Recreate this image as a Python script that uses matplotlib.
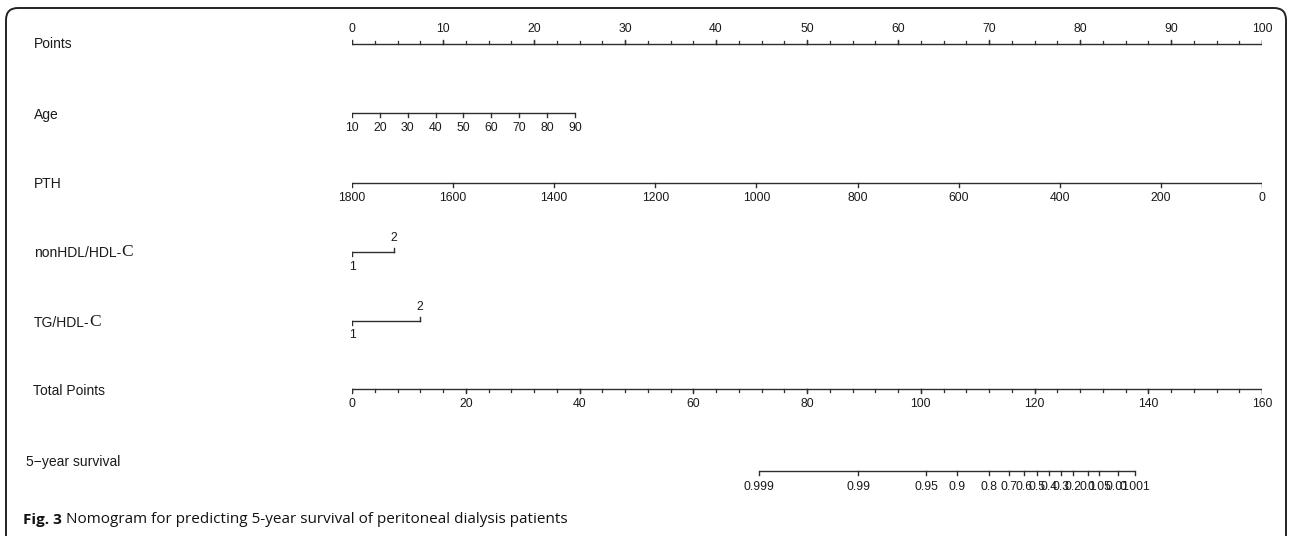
import matplotlib
matplotlib.use("Agg")
import matplotlib.pyplot as plt
import matplotlib.transforms as mtransforms
from matplotlib.patches import FancyBboxPatch
from matplotlib import font_manager
import numpy as np

# ---------------- data ----------------
points_major = [0, 10, 20, 30, 40, 50, 60, 70, 80, 90, 100]
points_minor_step = 2.5

age_ticks = [10, 20, 30, 40, 50, 60, 70, 80, 90]
age_range = [10, 90]
age_points_range = [0.0, 24.5]

pth_ticks = [1800, 1600, 1400, 1200, 1000, 800, 600, 400, 200, 0]
pth_range = [1800, 0]
pth_points_range = [0.0, 100.0]

nonhdl_levels = ["1", "2"]
nonhdl_points = [0.0, 4.6]

tg_levels = ["1", "2"]
tg_points = [0.0, 7.5]

total_major = [0, 20, 40, 60, 80, 100, 120, 140, 160]
total_minor_step = 4

surv_labels = ["0.999", "0.99", "0.95", "0.9", "0.8", "0.7", "0.6", "0.5",
               "0.4", "0.3", "0.2", "0.1", "0.05", "0.01", "0.001"]
surv_total_points = [71.6, 89.0, 101.0, 106.4, 112.0, 115.5, 118.2, 120.5,
                     122.5, 124.6, 126.8, 129.4, 131.4, 134.6, 137.7]

row_names = ["Points", "Age", "PTH", "nonHDL/HDL-", "TG/HDL-", "Total Points", "5\u2212year survival"]
caption_bold = "Fig. 3"
caption_text = " Nomogram for predicting 5-year survival of peritoneal dialysis patients"

# ---------------- layout ----------------
W, H = 1289, 536
fig = plt.figure(figsize=(W / 100, H / 100), dpi=100)

x0, x1 = 352, 1262
ax_bg = fig.add_axes([0, 0, 1, 1])
ax_bg.set_xlim(0, W)
ax_bg.set_ylim(H, 0)
ax_bg.axis("off")

ax = fig.add_axes([x0 / W, 0, (x1 - x0) / W, 1])
ax.set_xlim(0, 100)
ax.set_ylim(H, 0)
ax.axis("off")

ax_tot = fig.add_axes([x0 / W, 0, (x1 - x0) / W, 1])
ax_tot.set_xlim(0, 160)
ax_tot.set_ylim(H, 0)
ax_tot.axis("off")

LC = "#2e2e2e"
TC = "#1a1a1a"
LW = 1.0
_path = font_manager.findfont(font_manager.FontProperties(family="Liberation Sans",
                                                           stretch="normal", weight="normal"))
TICKFS = 8.8
LABFS = 10


def fp(size):
    return font_manager.FontProperties(fname=_path, size=size)


def lin(v, vr, pr):
    return pr[0] + (np.asarray(v, float) - vr[0]) * (pr[1] - pr[0]) / (vr[1] - vr[0])


def draw_scale(a, xs, y, labels, up, minor=None, tl=4.0, minor_tl=3.0, lab_off=14.5, fs=TICKFS):
    xs = np.asarray(xs, float)
    a.plot([xs.min(), xs.max()], [y, y], color=LC, lw=LW, solid_capstyle="butt")
    d = -1 if up else 1
    if minor is not None:
        for m in minor:
            a.plot([m, m], [y, y + d * minor_tl], color=LC, lw=LW * 0.9)
    for xv, lab in zip(xs, labels):
        a.plot([xv, xv], [y, y + d * tl], color=LC, lw=LW)
        a.text(xv, y + d * lab_off, lab, ha="center", va="center",
               fontproperties=fp(fs), color=TC)


# Points
pm = np.arange(0, 100 + 1e-9, points_minor_step)
draw_scale(ax, points_major, 43.5, [str(v) for v in points_major], up=True,
           minor=pm, tl=4, minor_tl=3, lab_off=15)

# Age
draw_scale(ax, lin(age_ticks, age_range, age_points_range), 113.3,
           [str(v) for v in age_ticks], up=False, lab_off=15)

# PTH
draw_scale(ax, lin(pth_ticks, pth_range, pth_points_range), 182.7,
           [str(v) for v in pth_ticks], up=False, lab_off=15)


# categorical rows (1 below, 2 above)
def draw_cat(xs, y, labels):
    ax.plot([xs[0], xs[-1]], [y, y], color=LC, lw=LW)
    ax.plot([xs[0], xs[0]], [y, y + 4], color=LC, lw=LW)
    ax.text(xs[0], y + 15, labels[0], ha="center", va="center", fontproperties=fp(TICKFS), color=TC)
    ax.plot([xs[-1], xs[-1]], [y, y - 4], color=LC, lw=LW)
    ax.text(xs[-1], y - 14, labels[-1], ha="center", va="center", fontproperties=fp(TICKFS), color=TC)


draw_cat(nonhdl_points, 251.7, nonhdl_levels)
draw_cat(tg_points, 320.5, tg_levels)

# Total points
tm = np.arange(0, 160 + 1e-9, total_minor_step)
draw_scale(ax_tot, total_major, 389.3, [str(v) for v in total_major], up=False,
           minor=tm, tl=4, minor_tl=3, lab_off=15)

# Survival
draw_scale(ax_tot, surv_total_points, 471.0, surv_labels, up=False, lab_off=15.5, fs=8.8)

# ---------------- row labels ----------------
lab_tr = mtransforms.blended_transform_factory(fig.transFigure, ax.transData)
label_pos = [(34, 43), (34, 114), (34, 183), (34, 252), (34, 322), (33, 390), (26, 461)]
for i, (name, (lx, ly)) in enumerate(zip(row_names, label_pos)):
    t = ax.text(lx / W, ly + 4.7, name, transform=lab_tr, ha="left", va="baseline",
                fontproperties=fp(LABFS), color=TC)
    if i in (3, 4):
        ax.annotate("C", xy=(1, 0), xycoords=t, ha="left", va="bottom",
                    fontsize=12.5, family="Liberation Serif", color=TC)

# ---------------- border & caption ----------------
box = FancyBboxPatch((6, 8), W - 6 - 3, 560, boxstyle="round,pad=0,rounding_size=12",
                     linewidth=1.4, edgecolor="#222222", facecolor="none")
ax_bg.add_patch(box)

cap = ax_bg.text(23, 524, caption_bold, ha="left", va="baseline", fontsize=11,
                 family="Open Sans", weight="bold", color="#111111")
ax_bg.annotate(caption_text, xy=(1, 0), xycoords=cap, ha="left", va="bottom",
               fontsize=11, family="Open Sans", color="#111111")

fig.savefig("out.png", dpi=100)
